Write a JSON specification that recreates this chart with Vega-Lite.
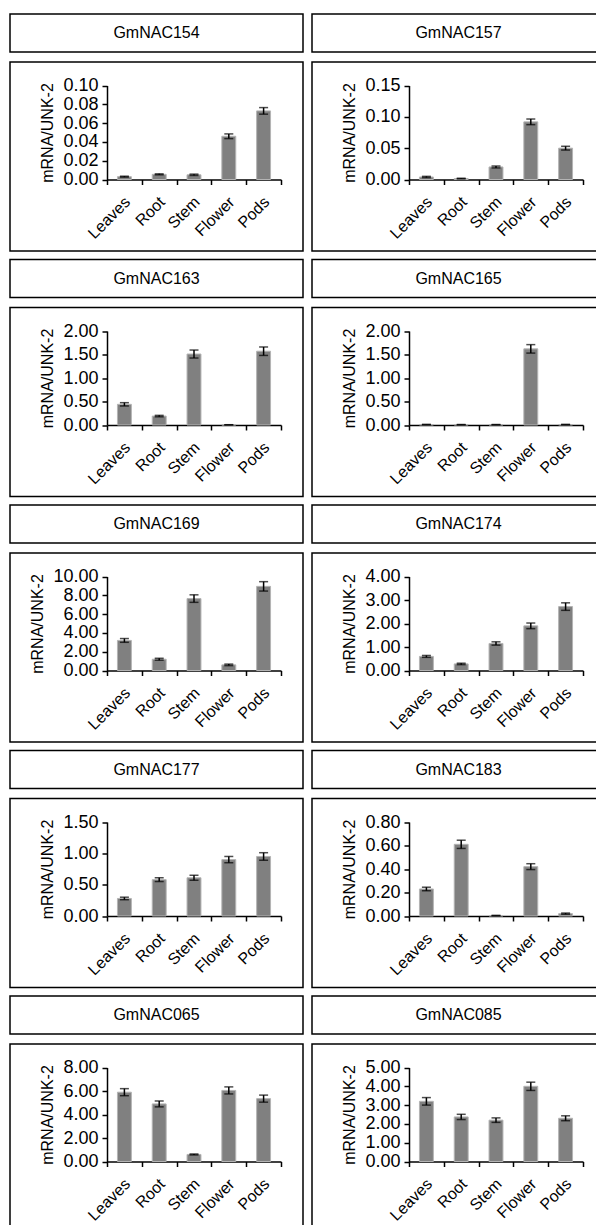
{
"$schema": "https://vega.github.io/schema/vega-lite/v6.json",
"background": "white",
"padding": {"left": 9, "top": 13, "right": 0, "bottom": 0},
"datasets": {
"expr": [
{"gene":"GmNAC154","tissue":"Leaves","value":0.003,"err":0.0005},
{"gene":"GmNAC154","tissue":"Root","value":0.0055,"err":0.0005},
{"gene":"GmNAC154","tissue":"Stem","value":0.005,"err":0.0007},
{"gene":"GmNAC154","tissue":"Flower","value":0.046,"err":0.0025},
{"gene":"GmNAC154","tissue":"Pods","value":0.073,"err":0.0035},
{"gene":"GmNAC157","tissue":"Leaves","value":0.004,"err":0.001},
{"gene":"GmNAC157","tissue":"Root","value":0.0015,"err":0.0005},
{"gene":"GmNAC157","tissue":"Stem","value":0.020,"err":0.0015},
{"gene":"GmNAC157","tissue":"Flower","value":0.092,"err":0.0045},
{"gene":"GmNAC157","tissue":"Pods","value":0.050,"err":0.003},
{"gene":"GmNAC163","tissue":"Leaves","value":0.44,"err":0.035},
{"gene":"GmNAC163","tissue":"Root","value":0.19,"err":0.015},
{"gene":"GmNAC163","tissue":"Stem","value":1.51,"err":0.085},
{"gene":"GmNAC163","tissue":"Flower","value":0.005,"err":0.001},
{"gene":"GmNAC163","tissue":"Pods","value":1.57,"err":0.09},
{"gene":"GmNAC165","tissue":"Leaves","value":0.01,"err":0.002},
{"gene":"GmNAC165","tissue":"Root","value":0.008,"err":0.002},
{"gene":"GmNAC165","tissue":"Stem","value":0.008,"err":0.002},
{"gene":"GmNAC165","tissue":"Flower","value":1.62,"err":0.09},
{"gene":"GmNAC165","tissue":"Pods","value":0.01,"err":0.002},
{"gene":"GmNAC169","tissue":"Leaves","value":3.2,"err":0.2},
{"gene":"GmNAC169","tissue":"Root","value":1.2,"err":0.1},
{"gene":"GmNAC169","tissue":"Stem","value":7.65,"err":0.4},
{"gene":"GmNAC169","tissue":"Flower","value":0.6,"err":0.08},
{"gene":"GmNAC169","tissue":"Pods","value":8.95,"err":0.5},
{"gene":"GmNAC174","tissue":"Leaves","value":0.6,"err":0.04},
{"gene":"GmNAC174","tissue":"Root","value":0.28,"err":0.03},
{"gene":"GmNAC174","tissue":"Stem","value":1.15,"err":0.07},
{"gene":"GmNAC174","tissue":"Flower","value":1.9,"err":0.12},
{"gene":"GmNAC174","tissue":"Pods","value":2.72,"err":0.16},
{"gene":"GmNAC177","tissue":"Leaves","value":0.28,"err":0.02},
{"gene":"GmNAC177","tissue":"Root","value":0.58,"err":0.03},
{"gene":"GmNAC177","tissue":"Stem","value":0.61,"err":0.04},
{"gene":"GmNAC177","tissue":"Flower","value":0.90,"err":0.05},
{"gene":"GmNAC177","tissue":"Pods","value":0.95,"err":0.06},
{"gene":"GmNAC183","tissue":"Leaves","value":0.23,"err":0.015},
{"gene":"GmNAC183","tissue":"Root","value":0.61,"err":0.035},
{"gene":"GmNAC183","tissue":"Stem","value":0.004,"err":0.001},
{"gene":"GmNAC183","tissue":"Flower","value":0.42,"err":0.025},
{"gene":"GmNAC183","tissue":"Pods","value":0.02,"err":0.005},
{"gene":"GmNAC065","tissue":"Leaves","value":5.9,"err":0.3},
{"gene":"GmNAC065","tissue":"Root","value":4.9,"err":0.25},
{"gene":"GmNAC065","tissue":"Stem","value":0.6,"err":0.04},
{"gene":"GmNAC065","tissue":"Flower","value":6.05,"err":0.3},
{"gene":"GmNAC065","tissue":"Pods","value":5.35,"err":0.3},
{"gene":"GmNAC085","tissue":"Leaves","value":3.2,"err":0.2},
{"gene":"GmNAC085","tissue":"Root","value":2.37,"err":0.14},
{"gene":"GmNAC085","tissue":"Stem","value":2.2,"err":0.12},
{"gene":"GmNAC085","tissue":"Flower","value":4.0,"err":0.22},
{"gene":"GmNAC085","tissue":"Pods","value":2.3,"err":0.13}
],
"titles": [
{"gene":"GmNAC154"},{"gene":"GmNAC157"},{"gene":"GmNAC163"},{"gene":"GmNAC165"},{"gene":"GmNAC169"},
{"gene":"GmNAC174"},{"gene":"GmNAC177"},{"gene":"GmNAC183"},{"gene":"GmNAC065"},{"gene":"GmNAC085"}
]
},
"columns": 2,
"spacing": {"row": 6.5, "column": 7},
"concat": [
{"spacing": 8, "vconcat": [
 {"data": {"name": "titles"}, "transform": [{"filter": "datum.gene === 'GmNAC154'"}], "width": 293, "height": 38, "view": {"stroke": "black", "strokeWidth": 1.5}, "mark": {"type": "text"}, "encoding": {"text": {"field": "gene"}}},
 {"data": {"name": "expr"}, "transform": [{"filter": "datum.gene === 'GmNAC154'"}], "width": 293, "height": 189,
  "encoding": {"x": {"field": "tissue", "type": "nominal", "sort": ["Leaves","Root","Stem","Flower","Pods"], "scale": {"range": [97, 271], "paddingInner": 0, "paddingOuter": 0}, "axis": {"title": null}},
   "y": {"field": "value", "type": "quantitative", "scale": {"domain": [0, 0.1], "range": [117.5, 23.5], "nice": false, "zero": false}, "axis": {"title": "mRNA/UNK-2", "values": [0, 0.02, 0.04, 0.06, 0.08, 0.1], "format": ".2f"}}},
  "layer": [{"mark": {"type": "bar", "width": {"band": 0.4}, "color": "#808080", "stroke": "#b4b4b4", "strokeWidth": 1}},
   {"mark": {"type": "errorbar", "color": "black", "thickness": 1.5, "ticks": {"size": 9}}, "encoding": {"yError": {"field": "err"}}}]}
]},
{"spacing": 8, "vconcat": [
 {"data": {"name": "titles"}, "transform": [{"filter": "datum.gene === 'GmNAC157'"}], "width": 293, "height": 38, "view": {"stroke": "black", "strokeWidth": 1.5}, "mark": {"type": "text"}, "encoding": {"text": {"field": "gene"}}},
 {"data": {"name": "expr"}, "transform": [{"filter": "datum.gene === 'GmNAC157'"}], "width": 293, "height": 189,
  "encoding": {"x": {"field": "tissue", "type": "nominal", "sort": ["Leaves","Root","Stem","Flower","Pods"], "scale": {"range": [97, 271], "paddingInner": 0, "paddingOuter": 0}, "axis": {"title": null}},
   "y": {"field": "value", "type": "quantitative", "scale": {"domain": [0, 0.15], "range": [117.5, 23.5], "nice": false, "zero": false}, "axis": {"title": "mRNA/UNK-2", "values": [0, 0.05, 0.1, 0.15], "format": ".2f"}}},
  "layer": [{"mark": {"type": "bar", "width": {"band": 0.4}, "color": "#808080", "stroke": "#b4b4b4", "strokeWidth": 1}},
   {"mark": {"type": "errorbar", "color": "black", "thickness": 1.5, "ticks": {"size": 9}}, "encoding": {"yError": {"field": "err"}}}]}
]},
{"spacing": 8, "vconcat": [
 {"data": {"name": "titles"}, "transform": [{"filter": "datum.gene === 'GmNAC163'"}], "width": 293, "height": 38, "view": {"stroke": "black", "strokeWidth": 1.5}, "mark": {"type": "text"}, "encoding": {"text": {"field": "gene"}}},
 {"data": {"name": "expr"}, "transform": [{"filter": "datum.gene === 'GmNAC163'"}], "width": 293, "height": 189,
  "encoding": {"x": {"field": "tissue", "type": "nominal", "sort": ["Leaves","Root","Stem","Flower","Pods"], "scale": {"range": [97, 271], "paddingInner": 0, "paddingOuter": 0}, "axis": {"title": null}},
   "y": {"field": "value", "type": "quantitative", "scale": {"domain": [0, 2], "range": [117.5, 23.5], "nice": false, "zero": false}, "axis": {"title": "mRNA/UNK-2", "values": [0, 0.5, 1, 1.5, 2], "format": ".2f"}}},
  "layer": [{"mark": {"type": "bar", "width": {"band": 0.4}, "color": "#808080", "stroke": "#b4b4b4", "strokeWidth": 1}},
   {"mark": {"type": "errorbar", "color": "black", "thickness": 1.5, "ticks": {"size": 9}}, "encoding": {"yError": {"field": "err"}}}]}
]},
{"spacing": 8, "vconcat": [
 {"data": {"name": "titles"}, "transform": [{"filter": "datum.gene === 'GmNAC165'"}], "width": 293, "height": 38, "view": {"stroke": "black", "strokeWidth": 1.5}, "mark": {"type": "text"}, "encoding": {"text": {"field": "gene"}}},
 {"data": {"name": "expr"}, "transform": [{"filter": "datum.gene === 'GmNAC165'"}], "width": 293, "height": 189,
  "encoding": {"x": {"field": "tissue", "type": "nominal", "sort": ["Leaves","Root","Stem","Flower","Pods"], "scale": {"range": [97, 271], "paddingInner": 0, "paddingOuter": 0}, "axis": {"title": null}},
   "y": {"field": "value", "type": "quantitative", "scale": {"domain": [0, 2], "range": [117.5, 23.5], "nice": false, "zero": false}, "axis": {"title": "mRNA/UNK-2", "values": [0, 0.5, 1, 1.5, 2], "format": ".2f"}}},
  "layer": [{"mark": {"type": "bar", "width": {"band": 0.4}, "color": "#808080", "stroke": "#b4b4b4", "strokeWidth": 1}},
   {"mark": {"type": "errorbar", "color": "black", "thickness": 1.5, "ticks": {"size": 9}}, "encoding": {"yError": {"field": "err"}}}]}
]},
{"spacing": 8, "vconcat": [
 {"data": {"name": "titles"}, "transform": [{"filter": "datum.gene === 'GmNAC169'"}], "width": 293, "height": 38, "view": {"stroke": "black", "strokeWidth": 1.5}, "mark": {"type": "text"}, "encoding": {"text": {"field": "gene"}}},
 {"data": {"name": "expr"}, "transform": [{"filter": "datum.gene === 'GmNAC169'"}], "width": 293, "height": 189,
  "encoding": {"x": {"field": "tissue", "type": "nominal", "sort": ["Leaves","Root","Stem","Flower","Pods"], "scale": {"range": [97, 271], "paddingInner": 0, "paddingOuter": 0}, "axis": {"title": null}},
   "y": {"field": "value", "type": "quantitative", "scale": {"domain": [0, 10], "range": [117.5, 23.5], "nice": false, "zero": false}, "axis": {"title": "mRNA/UNK-2", "values": [0, 2, 4, 6, 8, 10], "format": ".2f"}}},
  "layer": [{"mark": {"type": "bar", "width": {"band": 0.4}, "color": "#808080", "stroke": "#b4b4b4", "strokeWidth": 1}},
   {"mark": {"type": "errorbar", "color": "black", "thickness": 1.5, "ticks": {"size": 9}}, "encoding": {"yError": {"field": "err"}}}]}
]},
{"spacing": 8, "vconcat": [
 {"data": {"name": "titles"}, "transform": [{"filter": "datum.gene === 'GmNAC174'"}], "width": 293, "height": 38, "view": {"stroke": "black", "strokeWidth": 1.5}, "mark": {"type": "text"}, "encoding": {"text": {"field": "gene"}}},
 {"data": {"name": "expr"}, "transform": [{"filter": "datum.gene === 'GmNAC174'"}], "width": 293, "height": 189,
  "encoding": {"x": {"field": "tissue", "type": "nominal", "sort": ["Leaves","Root","Stem","Flower","Pods"], "scale": {"range": [97, 271], "paddingInner": 0, "paddingOuter": 0}, "axis": {"title": null}},
   "y": {"field": "value", "type": "quantitative", "scale": {"domain": [0, 4], "range": [117.5, 23.5], "nice": false, "zero": false}, "axis": {"title": "mRNA/UNK-2", "values": [0, 1, 2, 3, 4], "format": ".2f"}}},
  "layer": [{"mark": {"type": "bar", "width": {"band": 0.4}, "color": "#808080", "stroke": "#b4b4b4", "strokeWidth": 1}},
   {"mark": {"type": "errorbar", "color": "black", "thickness": 1.5, "ticks": {"size": 9}}, "encoding": {"yError": {"field": "err"}}}]}
]},
{"spacing": 8, "vconcat": [
 {"data": {"name": "titles"}, "transform": [{"filter": "datum.gene === 'GmNAC177'"}], "width": 293, "height": 38, "view": {"stroke": "black", "strokeWidth": 1.5}, "mark": {"type": "text"}, "encoding": {"text": {"field": "gene"}}},
 {"data": {"name": "expr"}, "transform": [{"filter": "datum.gene === 'GmNAC177'"}], "width": 293, "height": 189,
  "encoding": {"x": {"field": "tissue", "type": "nominal", "sort": ["Leaves","Root","Stem","Flower","Pods"], "scale": {"range": [97, 271], "paddingInner": 0, "paddingOuter": 0}, "axis": {"title": null}},
   "y": {"field": "value", "type": "quantitative", "scale": {"domain": [0, 1.5], "range": [117.5, 23.5], "nice": false, "zero": false}, "axis": {"title": "mRNA/UNK-2", "values": [0, 0.5, 1, 1.5], "format": ".2f"}}},
  "layer": [{"mark": {"type": "bar", "width": {"band": 0.4}, "color": "#808080", "stroke": "#b4b4b4", "strokeWidth": 1}},
   {"mark": {"type": "errorbar", "color": "black", "thickness": 1.5, "ticks": {"size": 9}}, "encoding": {"yError": {"field": "err"}}}]}
]},
{"spacing": 8, "vconcat": [
 {"data": {"name": "titles"}, "transform": [{"filter": "datum.gene === 'GmNAC183'"}], "width": 293, "height": 38, "view": {"stroke": "black", "strokeWidth": 1.5}, "mark": {"type": "text"}, "encoding": {"text": {"field": "gene"}}},
 {"data": {"name": "expr"}, "transform": [{"filter": "datum.gene === 'GmNAC183'"}], "width": 293, "height": 189,
  "encoding": {"x": {"field": "tissue", "type": "nominal", "sort": ["Leaves","Root","Stem","Flower","Pods"], "scale": {"range": [97, 271], "paddingInner": 0, "paddingOuter": 0}, "axis": {"title": null}},
   "y": {"field": "value", "type": "quantitative", "scale": {"domain": [0, 0.8], "range": [117.5, 23.5], "nice": false, "zero": false}, "axis": {"title": "mRNA/UNK-2", "values": [0, 0.2, 0.4, 0.6, 0.8], "format": ".2f"}}},
  "layer": [{"mark": {"type": "bar", "width": {"band": 0.4}, "color": "#808080", "stroke": "#b4b4b4", "strokeWidth": 1}},
   {"mark": {"type": "errorbar", "color": "black", "thickness": 1.5, "ticks": {"size": 9}}, "encoding": {"yError": {"field": "err"}}}]}
]},
{"spacing": 8, "vconcat": [
 {"data": {"name": "titles"}, "transform": [{"filter": "datum.gene === 'GmNAC065'"}], "width": 293, "height": 38, "view": {"stroke": "black", "strokeWidth": 1.5}, "mark": {"type": "text"}, "encoding": {"text": {"field": "gene"}}},
 {"data": {"name": "expr"}, "transform": [{"filter": "datum.gene === 'GmNAC065'"}], "width": 293, "height": 189,
  "encoding": {"x": {"field": "tissue", "type": "nominal", "sort": ["Leaves","Root","Stem","Flower","Pods"], "scale": {"range": [97, 271], "paddingInner": 0, "paddingOuter": 0}, "axis": {"title": null}},
   "y": {"field": "value", "type": "quantitative", "scale": {"domain": [0, 8], "range": [117.5, 23.5], "nice": false, "zero": false}, "axis": {"title": "mRNA/UNK-2", "values": [0, 2, 4, 6, 8], "format": ".2f"}}},
  "layer": [{"mark": {"type": "bar", "width": {"band": 0.4}, "color": "#808080", "stroke": "#b4b4b4", "strokeWidth": 1}},
   {"mark": {"type": "errorbar", "color": "black", "thickness": 1.5, "ticks": {"size": 9}}, "encoding": {"yError": {"field": "err"}}}]}
]},
{"spacing": 8, "vconcat": [
 {"data": {"name": "titles"}, "transform": [{"filter": "datum.gene === 'GmNAC085'"}], "width": 293, "height": 38, "view": {"stroke": "black", "strokeWidth": 1.5}, "mark": {"type": "text"}, "encoding": {"text": {"field": "gene"}}},
 {"data": {"name": "expr"}, "transform": [{"filter": "datum.gene === 'GmNAC085'"}], "width": 293, "height": 189,
  "encoding": {"x": {"field": "tissue", "type": "nominal", "sort": ["Leaves","Root","Stem","Flower","Pods"], "scale": {"range": [97, 271], "paddingInner": 0, "paddingOuter": 0}, "axis": {"title": null}},
   "y": {"field": "value", "type": "quantitative", "scale": {"domain": [0, 5], "range": [117.5, 23.5], "nice": false, "zero": false}, "axis": {"title": "mRNA/UNK-2", "values": [0, 1, 2, 3, 4, 5], "format": ".2f"}}},
  "layer": [{"mark": {"type": "bar", "width": {"band": 0.4}, "color": "#808080", "stroke": "#b4b4b4", "strokeWidth": 1}},
   {"mark": {"type": "errorbar", "color": "black", "thickness": 1.5, "ticks": {"size": 9}}, "encoding": {"yError": {"field": "err"}}}]}
]}
],
"config": {
 "font": "Liberation Sans",
 "view": {"stroke": "black", "strokeWidth": 1.5},
 "text": {"font": "Liberation Sans", "fontSize": 16, "color": "black"},
 "axis": {"grid": false, "domainColor": "black", "domainWidth": 1.5, "tickColor": "black", "tickWidth": 1.5, "tickSize": 5, "labelFont": "Liberation Sans", "labelFontSize": 16, "labelColor": "black", "titleFont": "Liberation Sans", "titleFontSize": 16, "titleFontWeight": "normal", "titleColor": "black"},
 "axisX": {"offset": -71.5, "labelAngle": -45, "labelAlign": "right", "labelBaseline": "top", "labelPadding": 9, "labelOffset": -3, "tickBand": "extent"},
 "axisY": {"offset": -97, "labelFontSize": 18, "labelPadding": 4, "titlePadding": 7}
}
}
